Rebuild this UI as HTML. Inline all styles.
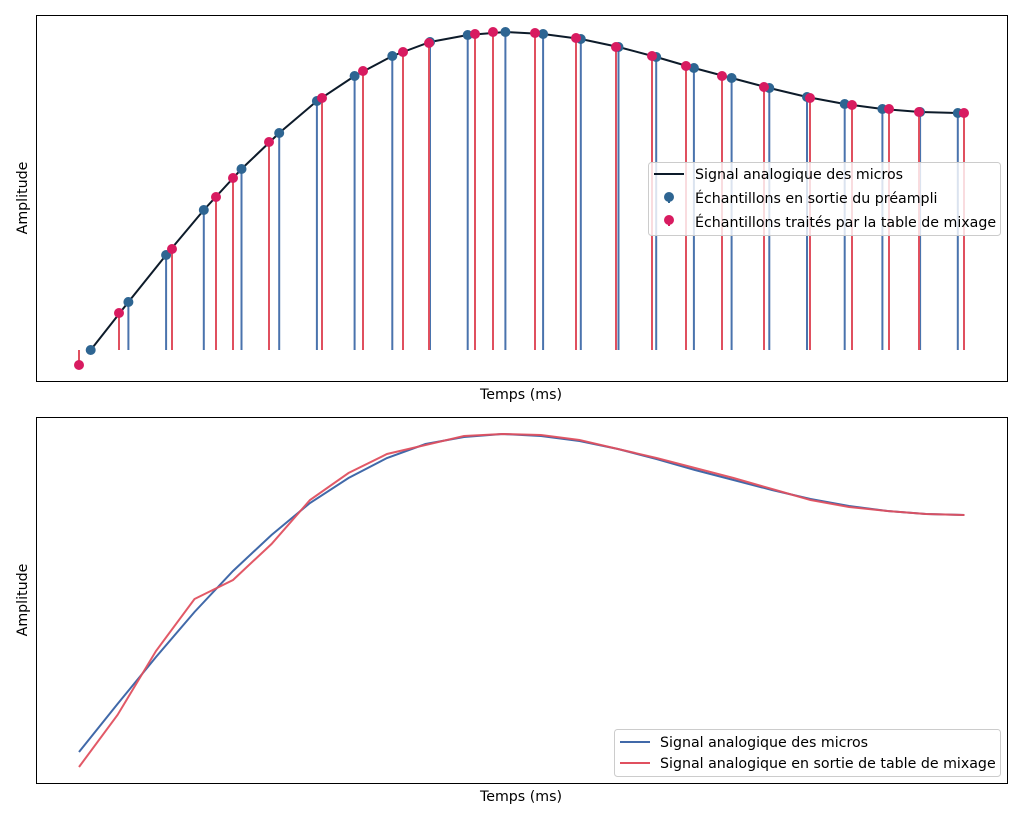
<!DOCTYPE html>
<html><head><meta charset="utf-8"><style>
html,body{margin:0;padding:0;background:#fff}
svg{display:block}
text{font-family:"DejaVu Sans","Liberation Sans",sans-serif;font-size:14.2px;fill:#000}
</style></head><body>
<svg width="1024" height="819" viewBox="0 0 1024 819" xmlns="http://www.w3.org/2000/svg">
<rect width="1024" height="819" fill="#fff"/>
<!-- TOP -->
<g stroke-width="2">
<g stroke="#4a73ad">
<line x1="90.7" y1="350" x2="90.7" y2="350"/><line x1="128.4" y1="350" x2="128.4" y2="302"/><line x1="166.1" y1="350" x2="166.1" y2="255"/><line x1="203.8" y1="350" x2="203.8" y2="210"/><line x1="241.5" y1="350" x2="241.5" y2="169"/><line x1="279.2" y1="350" x2="279.2" y2="133"/><line x1="316.9" y1="350" x2="316.9" y2="101"/><line x1="354.6" y1="350" x2="354.6" y2="76"/><line x1="392.3" y1="350" x2="392.3" y2="56"/><line x1="430" y1="350" x2="430" y2="42"/><line x1="467.7" y1="350" x2="467.7" y2="35"/><line x1="505.4" y1="350" x2="505.4" y2="32"/><line x1="543.1" y1="350" x2="543.1" y2="34"/><line x1="580.8" y1="350" x2="580.8" y2="39"/><line x1="618.5" y1="350" x2="618.5" y2="47"/><line x1="656.2" y1="350" x2="656.2" y2="57"/><line x1="693.9" y1="350" x2="693.9" y2="68"/><line x1="731.6" y1="350" x2="731.6" y2="78"/><line x1="769.3" y1="350" x2="769.3" y2="88"/><line x1="807" y1="350" x2="807" y2="97"/><line x1="844.7" y1="350" x2="844.7" y2="104"/><line x1="882.4" y1="350" x2="882.4" y2="109"/><line x1="920.1" y1="350" x2="920.1" y2="112"/><line x1="957.8" y1="350" x2="957.8" y2="113"/>
</g>
<g stroke="#e0505f">
<line x1="79" y1="350" x2="79" y2="365"/><line x1="119" y1="350" x2="119" y2="313"/><line x1="172" y1="350" x2="172" y2="249"/><line x1="216" y1="350" x2="216" y2="197"/><line x1="233" y1="350" x2="233" y2="178"/><line x1="269" y1="350" x2="269" y2="142"/><line x1="322" y1="350" x2="322" y2="98"/><line x1="363" y1="350" x2="363" y2="71"/><line x1="403" y1="350" x2="403" y2="52"/><line x1="429" y1="350" x2="429" y2="43"/><line x1="475" y1="350" x2="475" y2="34"/><line x1="493" y1="350" x2="493" y2="32"/><line x1="535" y1="350" x2="535" y2="33"/><line x1="576" y1="350" x2="576" y2="38"/><line x1="616" y1="350" x2="616" y2="47"/><line x1="652" y1="350" x2="652" y2="56"/><line x1="686" y1="350" x2="686" y2="66"/><line x1="722" y1="350" x2="722" y2="76"/><line x1="764" y1="350" x2="764" y2="87"/><line x1="810" y1="350" x2="810" y2="98"/><line x1="852" y1="350" x2="852" y2="105"/><line x1="889" y1="350" x2="889" y2="109"/><line x1="919" y1="350" x2="919" y2="112"/><line x1="964" y1="350" x2="964" y2="113"/>
</g>
</g>
<polyline fill="none" stroke="#0d1b2a" stroke-width="2" points="90.7,350 128.4,302 166.1,255 203.8,210 241.5,169 279.2,133 316.9,101 354.6,76 392.3,56 430,42 467.7,35 505.4,32 543.1,34 580.8,39 618.5,47 656.2,57 693.9,68 731.6,78 769.3,88 807,97 844.7,104 882.4,109 920.1,112 957.8,113"/>
<g fill="#2e6592">
<circle cx="90.7" cy="350" r="5"/><circle cx="128.4" cy="302" r="5"/><circle cx="166.1" cy="255" r="5"/><circle cx="203.8" cy="210" r="5"/><circle cx="241.5" cy="169" r="5"/><circle cx="279.2" cy="133" r="5"/><circle cx="316.9" cy="101" r="5"/><circle cx="354.6" cy="76" r="5"/><circle cx="392.3" cy="56" r="5"/><circle cx="430" cy="42" r="5"/><circle cx="467.7" cy="35" r="5"/><circle cx="505.4" cy="32" r="5"/><circle cx="543.1" cy="34" r="5"/><circle cx="580.8" cy="39" r="5"/><circle cx="618.5" cy="47" r="5"/><circle cx="656.2" cy="57" r="5"/><circle cx="693.9" cy="68" r="5"/><circle cx="731.6" cy="78" r="5"/><circle cx="769.3" cy="88" r="5"/><circle cx="807" cy="97" r="5"/><circle cx="844.7" cy="104" r="5"/><circle cx="882.4" cy="109" r="5"/><circle cx="920.1" cy="112" r="5"/><circle cx="957.8" cy="113" r="5"/>
</g>
<g fill="#d81b60">
<circle cx="79" cy="365" r="5"/><circle cx="119" cy="313" r="5"/><circle cx="172" cy="249" r="5"/><circle cx="216" cy="197" r="5"/><circle cx="233" cy="178" r="5"/><circle cx="269" cy="142" r="5"/><circle cx="322" cy="98" r="5"/><circle cx="363" cy="71" r="5"/><circle cx="403" cy="52" r="5"/><circle cx="429" cy="43" r="5"/><circle cx="475" cy="34" r="5"/><circle cx="493" cy="32" r="5"/><circle cx="535" cy="33" r="5"/><circle cx="576" cy="38" r="5"/><circle cx="616" cy="47" r="5"/><circle cx="652" cy="56" r="5"/><circle cx="686" cy="66" r="5"/><circle cx="722" cy="76" r="5"/><circle cx="764" cy="87" r="5"/><circle cx="810" cy="98" r="5"/><circle cx="852" cy="105" r="5"/><circle cx="889" cy="109" r="5"/><circle cx="919" cy="112" r="5"/><circle cx="964" cy="113" r="5"/>
</g>
<rect x="36.5" y="15.5" width="971" height="366" fill="none" stroke="#000" stroke-width="1"/>
<!-- top legend -->
<rect x="648.5" y="162.5" width="352" height="73" rx="3" fill="#fff" fill-opacity="0.8" stroke="#ccc"/>
<line x1="654" y1="174" x2="684" y2="174" stroke="#0d1b2a" stroke-width="2"/>
<circle cx="669" cy="197" r="5" fill="#2e6592"/><line x1="669" y1="197" x2="669" y2="203" stroke="#2e6592" stroke-width="2"/>
<circle cx="669" cy="220" r="5" fill="#d81b60"/><line x1="669" y1="220" x2="669" y2="226" stroke="#d81b60" stroke-width="2"/>
<text x="695" y="179">Signal analogique des micros</text>
<text x="695" y="203">Échantillons en sortie du préampli</text>
<text x="695" y="227">Échantillons traités par la table de mixage</text>
<text x="521" y="399" text-anchor="middle">Temps (ms)</text>
<text transform="translate(27,198) rotate(-90)" text-anchor="middle">Amplitude</text>
<!-- BOTTOM -->
<polyline fill="none" stroke="#4169a9" stroke-width="2" points="79,752 117.5,704 156,657 194.5,612 233,571 271.5,535 310,503 348.5,478 387,458 425.5,444 464,437 502.5,434 541,436 579.5,441 618,449 656.5,459 695,470 733.5,480 772,490 810.5,499 849,506 887.5,511 926,514 964.5,515"/>
<polyline fill="none" stroke="#e0505f" stroke-opacity="0.95" stroke-width="2" points="79,767 117.5,715 156,651 194.5,599 233,580 271.5,544 310,500 348.5,473 387,454 425.5,445 464,436 502.5,434 541,435 579.5,440 618,449 656.5,458 695,468 733.5,478 772,489 810.5,500 849,507 887.5,511 926,514 964.5,515"/>
<rect x="36.5" y="417.5" width="971" height="366" fill="none" stroke="#000" stroke-width="1"/>
<rect x="614.5" y="729.5" width="386" height="47" rx="3" fill="#fff" fill-opacity="0.8" stroke="#ccc"/>
<line x1="620" y1="742" x2="650" y2="742" stroke="#4169a9" stroke-width="2"/>
<line x1="620" y1="763" x2="650" y2="763" stroke="#e0505f" stroke-width="2"/>
<text x="660" y="747">Signal analogique des micros</text>
<text x="660" y="768">Signal analogique en sortie de table de mixage</text>
<text x="521" y="801" text-anchor="middle">Temps (ms)</text>
<text transform="translate(27,600) rotate(-90)" text-anchor="middle">Amplitude</text>
</svg>
</body></html>
